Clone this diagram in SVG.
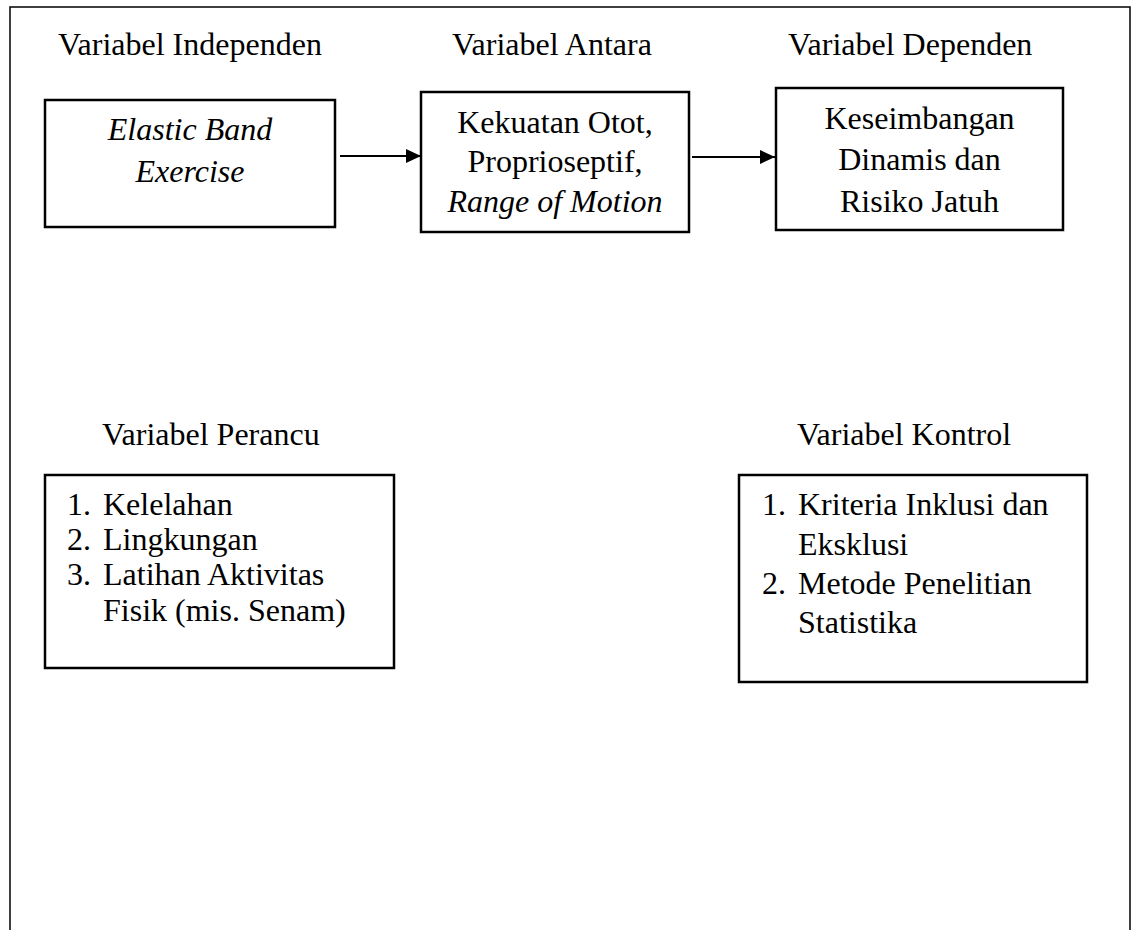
<svg xmlns="http://www.w3.org/2000/svg" width="1133" height="930" viewBox="0 0 1133 930">
<style>
text{font-family:"Liberation Serif","Times New Roman",serif;font-size:32px;fill:#000}
.c{text-anchor:middle}
.i{font-style:italic}
.box{fill:#fff;stroke:#000;stroke-width:2.5}
.frame{fill:none;stroke:#000;stroke-width:1.5}
.conn{stroke:#000;stroke-width:2.2;fill:none}
</style>
<defs>
<marker id="ah" viewBox="0 0 15 14" refX="15" refY="7" markerWidth="15" markerHeight="14" markerUnits="userSpaceOnUse" orient="auto">
<path d="M0,0 L15,7 L0,14 z" fill="#000"/>
</marker>
</defs>
<rect width="1133" height="930" fill="#fff"/>
<path class="frame" d="M10,935 V7 H1130 V935"/>
<g id="labels">
<text x="58" y="55">Variabel Independen</text>
<text x="452" y="55">Variabel Antara</text>
<text x="788" y="55">Variabel Dependen</text>
<text x="102" y="445">Variabel Perancu</text>
<text x="797" y="445">Variabel Kontrol</text>
</g>
<g id="independen">
<rect class="box" x="45" y="100" width="290" height="127"/>
<text class="c i" x="190" y="140">Elastic Band</text>
<text class="c i" x="190" y="182">Exercise</text>
</g>
<g id="antara">
<rect class="box" x="421" y="92" width="268" height="140"/>
<text class="c" x="555" y="133">Kekuatan Otot,</text>
<text class="c" x="555" y="172">Proprioseptif,</text>
<text class="c i" x="555" y="212">Range of Motion</text>
</g>
<g id="dependen">
<rect class="box" x="776" y="88" width="287" height="142"/>
<text class="c" x="919.5" y="129">Keseimbangan</text>
<text class="c" x="919.5" y="170">Dinamis dan</text>
<text class="c" x="919.5" y="212">Risiko Jatuh</text>
</g>
<g id="perancu">
<rect class="box" x="45" y="475" width="349" height="193"/>
<text x="67" y="515">1.</text><text x="103" y="515">Kelelahan</text>
<text x="67" y="550">2.</text><text x="103" y="550">Lingkungan</text>
<text x="67" y="585">3.</text><text x="103" y="585">Latihan Aktivitas</text>
<text x="103" y="621">Fisik (mis. Senam)</text>
</g>
<g id="kontrol">
<rect class="box" x="739" y="475" width="348" height="207"/>
<text x="762" y="515">1.</text><text x="798" y="515">Kriteria Inklusi dan</text>
<text x="798" y="555">Eksklusi</text>
<text x="762" y="594">2.</text><text x="798" y="594">Metode Penelitian</text>
<text x="798" y="633">Statistika</text>
</g>
<g id="connectors">
<line class="conn" x1="340" y1="156" x2="421" y2="156" marker-end="url(#ah)"/>
<line class="conn" x1="692" y1="157" x2="775" y2="157" marker-end="url(#ah)"/>
</g>
</svg>
